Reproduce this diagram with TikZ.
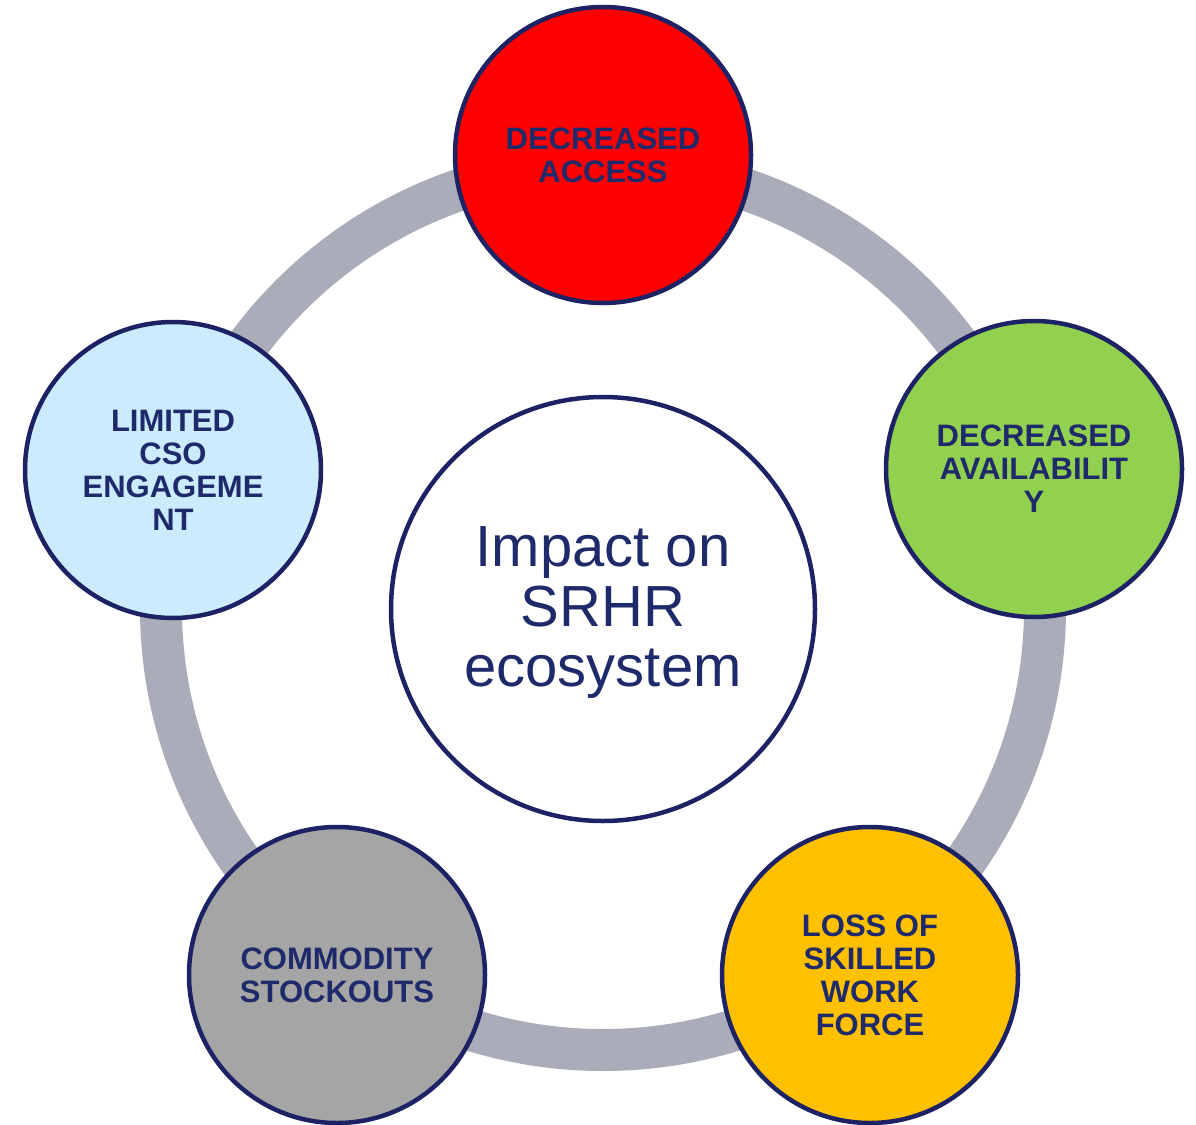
\documentclass[tikz,border=0pt]{standalone}
\usepackage{fontspec}
\setmainfont{Liberation Sans}
\definecolor{ringgray}{HTML}{AAACB9}
\definecolor{navy}{HTML}{1C2263}
\definecolor{txtnavy}{HTML}{1F2A6B}
\definecolor{cred}{HTML}{FF0000}
\definecolor{cgreen}{HTML}{92D050}
\definecolor{cblue}{HTML}{CCEBFF}
\definecolor{cyellow}{HTML}{FFC000}
\definecolor{cgray}{HTML}{A5A5A5}
\begin{document}
\begin{tikzpicture}[x=1pt,y=-1pt,
  outer/.style={circle,draw=navy,line width=4.5pt,minimum size=296pt,inner sep=0pt,
    align=center,text=txtnavy,font=\fontsize{31}{33}\selectfont\bfseries},
  centre/.style={circle,draw=navy,line width=4.5pt,minimum size=424pt,inner sep=0pt,fill=white},
  centretext/.style={align=center,text=txtnavy,font=\fontsize{58}{60}\selectfont,inner sep=0pt}]
\useasboundingbox (0,0) rectangle (1196,1124);
\coordinate (ctr) at (603,608);
\draw[ringgray,line width=42pt] (ctr) circle[radius=442];
\node[centre] (mid) at (603,609) {};
\node[centretext] (midtext) at (603,613) {Impact on\\SRHR\\ecosystem};
\node[outer,fill=cred] (access) at (603,155) {DECREASED\\ACCESS};
\node[outer,fill=cgreen] (avail) at (1034,469) {DECREASED\\AVAILABILIT\\Y};
\node[outer,fill=cyellow] (work) at (870,975) {LOSS OF\\SKILLED\\WORK\\FORCE};
\node[outer,fill=cgray] (stock) at (337,975) {COMMODITY\\STOCKOUTS};
\node[outer,fill=cblue] (cso) at (173,470) {LIMITED\\CSO\\ENGAGEME\\NT};
\end{tikzpicture}
\end{document}
